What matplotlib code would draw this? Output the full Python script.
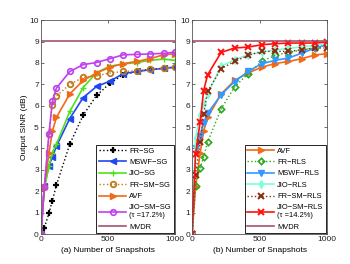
import numpy as np
import matplotlib
matplotlib.use('Agg')
import matplotlib.pyplot as plt

plt.rcParams['font.family'] = ['Liberation Sans', 'DejaVu Sans']

# number of snapshots at which the curves were sampled
snap = [0, 25, 60, 85, 115, 215, 315, 415, 515, 615, 715, 815, 915, 1000]

# (a) SG based algorithms
fr_sg     = [0, 0.28, 0.98, 1.56, 2.28, 4.2, 5.56, 6.48, 7.05, 7.45, 7.6, 7.7, 7.75, 7.8]
mswf_sg   = [0, 2.25, 3.2, 3.6, 4.1, 5.4, 6.38, 6.9, 7.15, 7.5, 7.6, 7.68, 7.75, 7.8]
jio_sg    = [0, 2.1, 3.2, 3.8, 4.2, 5.73, 6.85, 7.55, 7.85, 7.95, 8.02, 8.12, 8.18, 8.12]
frsm_sg   = [0, 2.2, 4.7, 6.03, 6.45, 7.0, 7.32, 7.4, 7.53, 7.6, 7.64, 7.7, 7.75, 7.8]
avf       = [0, 2.2, 3.8, 4.8, 5.45, 6.55, 7.18, 7.53, 7.8, 7.97, 8.07, 8.2, 8.38, 8.43]
jiosm_sg  = [0, 2.2, 4.7, 6.2, 6.82, 7.6, 7.92, 8.02, 8.2, 8.38, 8.4, 8.42, 8.45, 8.5]

# (b) RLS based algorithms
fr_rls    = [0, 2.25, 3.1, 3.6, 4.3, 5.85, 6.88, 7.5, 8.07, 8.35, 8.5, 8.6, 8.72, 8.85]
mswf_rls  = [0, 4.0, 4.6, 5.2, 5.65, 6.51, 7.13, 7.6, 7.96, 8.12, 8.23, 8.46, 8.7, 8.85]
jio_rls   = [0, 4.5, 5.57, 6.1, 6.55, 7.85, 8.15, 8.38, 8.5, 8.6, 8.68, 8.75, 8.82, 8.9]
frsm_rls  = [0, 2.78, 4.3, 5.6, 6.67, 7.73, 8.07, 8.35, 8.54, 8.54, 8.54, 8.62, 8.7, 8.7]
jiosm_rls = [0, 3.72, 5.26, 6.7, 7.45, 8.49, 8.7, 8.74, 8.85, 8.9, 8.93, 8.93, 8.93, 8.98]

mvdr = 9.03

fig = plt.figure(figsize=(3.5, 2.64), dpi=100)
ax1 = fig.add_axes([0.117, 0.1136, 0.383, 0.81])
ax2 = fig.add_axes([0.549, 0.1136, 0.385, 0.81])

ms = 4
lw = 1.2
mvdr_col = '#a3546a'

ax1.plot(snap, fr_sg, color='k', ls=':', lw=1.0, marker='+', ms=5, mew=1.6, label='FR\u2212SG')
ax1.plot(snap, mswf_sg, color='#2048f0', lw=lw, marker='<', ms=ms, label='MSWF\u2212SG')
ax1.plot(snap, jio_sg, color='#50e020', lw=lw, marker='+', ms=ms + 1, mew=1.0, label='JIO\u2212SG')
ax1.plot(snap, frsm_sg, color='#c07a18', ls=':', lw=1.0, marker='o', ms=ms, mfc='none', mew=1.3,
         label='FR\u2212SM\u2212SG')
ax1.plot(snap, avf, color='#f06a18', lw=lw, marker='>', ms=ms, label='AVF')
ax1.plot(snap, jiosm_sg, color='#c040f0', lw=lw, marker='o', ms=ms, mfc='none', mew=1.2,
         label='JIO\u2212SM\u2212SG\n(\u03c4 =17.2%)')
ax1.plot([0, 1000], [mvdr, mvdr], color=mvdr_col, lw=lw, label='MVDR')

ax2.plot(snap, avf, color='#f06a18', lw=lw, marker='>', ms=ms, label='AVF')
ax2.plot(snap, fr_rls, color='#2aa81a', ls=':', lw=1.0, marker='D', ms=3.2, mfc='none', mew=1.2,
         label='FR\u2212RLS')
ax2.plot(snap, mswf_rls, color='#3399ff', lw=lw, marker='v', ms=ms, label='MSWF\u2212RLS')
ax2.plot(snap, jio_rls, color='#7fffd8', lw=lw, marker='d', ms=ms, label='JIO\u2212RLS')
ax2.plot(snap, frsm_rls, color='#8b2a10', ls=':', lw=1.0, marker='x', ms=ms, mew=1.4,
         label='FR\u2212SM\u2212RLS')
ax2.plot(snap, jiosm_rls, color='#ff1010', lw=lw, marker='x', ms=ms, mew=1.4,
         label='JIO\u2212SM\u2212RLS\n(\u03c4 =14.2%)')
ax2.plot([0, 1000], [mvdr, mvdr], color=mvdr_col, lw=lw, label='MVDR')

for ax, lab in [(ax1, '(a) Number of Snapshots'), (ax2, '(b) Number of Snapshots')]:
    ax.set_xlim(0, 1000)
    ax.set_ylim(0, 10)
    ax.set_xticks([0, 500, 1000])
    ax.set_yticks(range(0, 11))
    ax.tick_params(direction='in', top=True, right=True, labelsize=6, length=2, width=0.5,
                   pad=1.5, colors='#333333', labelcolor='#222222')
    for s in ax.spines.values():
        s.set_linewidth(0.6)
        s.set_color('#555555')
    ax.set_xlabel(lab, fontsize=6, labelpad=3)
    leg = ax.legend(loc='lower right', fontsize=5.4, handlelength=3.6, handletextpad=0.4,
                    labelspacing=0.55, borderaxespad=0.1, borderpad=0.35, fancybox=False,
                    framealpha=1)
    leg.get_frame().set_edgecolor('k')
    leg.get_frame().set_linewidth(0.6)

ax1.set_ylabel('Output SINR (dB)', fontsize=6, labelpad=1)

fig.savefig('out.png', dpi=100)
